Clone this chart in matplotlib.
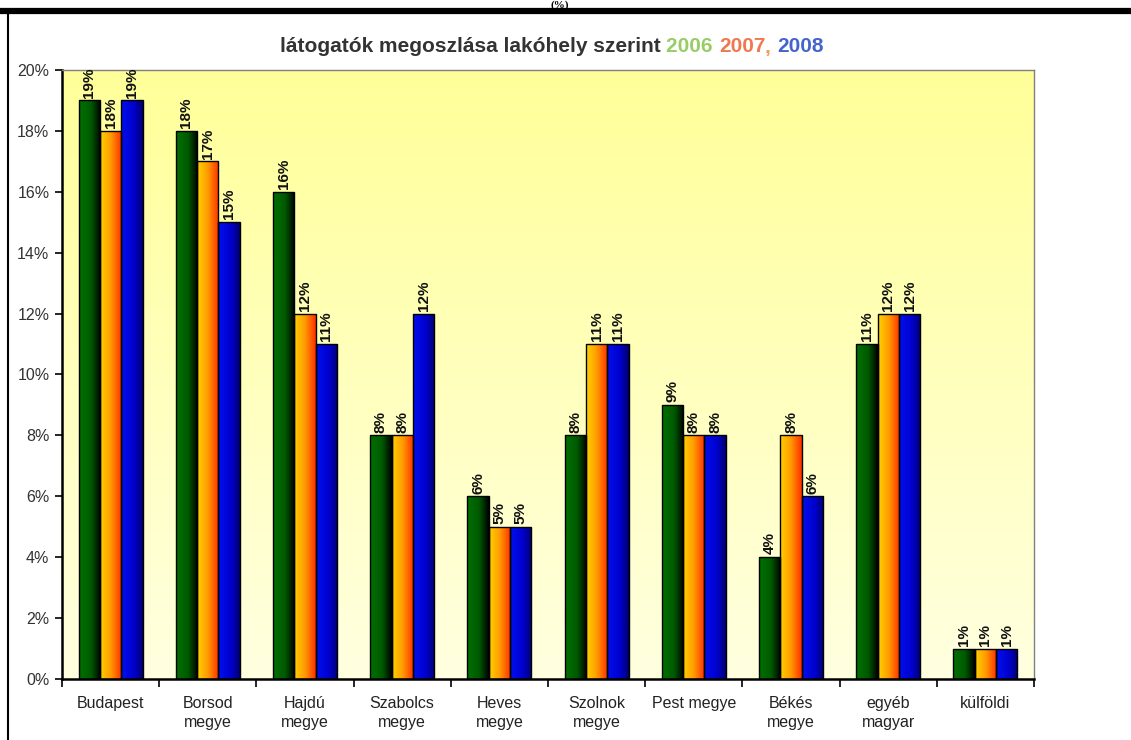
import numpy as np
import matplotlib
matplotlib.use("Agg")
import matplotlib.pyplot as plt
from matplotlib.colors import LinearSegmentedColormap
from matplotlib.lines import Line2D

categories = ["Budapest", "Borsod\nmegye", "Hajdú\nmegye", "Szabolcs\nmegye", "Heves\nmegye",
              "Szolnok\nmegye", "Pest megye", "Békés\nmegye", "egyéb\nmagyar", "külföldi"]
v2006 = [19, 18, 16, 8, 6, 8, 9, 4, 11, 1]
v2007 = [18, 17, 12, 8, 5, 11, 8, 8, 12, 1]
v2008 = [19, 15, 11, 12, 5, 11, 8, 6, 12, 1]
yticks = [0, 2, 4, 6, 8, 10, 12, 14, 16, 18, 20]

plt.rcParams['font.family'] = ['Liberation Sans', 'DejaVu Sans']

W, H = 1131, 740
fig = plt.figure(figsize=(W / 100, H / 100), dpi=100)
fig.patch.set_facecolor("white")

ax = fig.add_axes([62 / W, 1 - 679 / H, (1034 - 62) / W, (679 - 70) / H])
ax.set_facecolor("none")

# background gradient (vertical)
bg = LinearSegmentedColormap.from_list("bg", ["#FFFFE0", "#FFFF99"])
grad = np.linspace(0, 1, 256).reshape(-1, 1)
ax.imshow(grad, cmap=bg, aspect="auto", origin="lower", extent=(0, 1, 0, 1),
          transform=ax.transAxes, zorder=0)

x = np.arange(len(categories))
w = 0.22
cmaps = [
    LinearSegmentedColormap.from_list("g", [(0, "#007000"), (0.55, "#005A00"), (0.8, "#002A00"), (1, "#000000")]),
    LinearSegmentedColormap.from_list("o", [(0, "#FFD200"), (0.5, "#FF9A00"), (1, "#FF3000")]),
    LinearSegmentedColormap.from_list("b", [(0, "#0010F0"), (0.6, "#0000CC"), (1, "#000070")]),
]
series = [v2006, v2007, v2008]
hgrad = np.linspace(0, 1, 64).reshape(1, -1)
for i, (vals, cm) in enumerate(zip(series, cmaps)):
    bars = ax.bar(x + (i - 1) * w, vals, width=w, facecolor="none", edgecolor="black",
                  linewidth=1.0, zorder=3)
    for p in bars.patches:
        x0, y0 = p.get_x(), p.get_y()
        im = ax.imshow(hgrad, cmap=cm, aspect="auto", origin="lower",
                       extent=(x0, x0 + p.get_width(), y0, y0 + p.get_height()), zorder=2)
        im.set_clip_path(p)
    ax.bar_label(bars, labels=[f"{v}%" for v in vals], rotation=90, padding=2,
                 fontsize=11, fontweight="bold", color="#111111", zorder=5)

ax.set_xlim(-0.5, len(categories) - 0.5)
ax.set_ylim(0, 20)

ax.set_yticks(yticks)
ax.set_yticklabels([f"{t}%" for t in yticks], fontsize=11.5, color="#333333")
ax.tick_params(axis="y", direction="out", length=5, width=1.2, color="black", pad=4)

ax.set_xticks(x)
ax.set_xticklabels(categories, fontsize=11.5, color="#222222", linespacing=1.35)
ax.set_xticks(np.arange(-0.5, len(categories), 1), minor=True)
ax.tick_params(axis="x", which="major", length=0, pad=12)
ax.tick_params(axis="x", which="minor", direction="out", length=6, width=1.2, color="black")

for s in ["left", "bottom"]:
    ax.spines[s].set_color("black")
    ax.spines[s].set_linewidth(1.8)
for s in ["top", "right"]:
    ax.spines[s].set_color("#808080")
    ax.spines[s].set_linewidth(1.0)

# title with coloured years
fs = 15
t = fig.text(280 / W, 1 - 47 / H, "látogatók megoszlása lakóhely szerint ", fontsize=fs,
             fontweight="bold", color="#333333", va="center", ha="left")
t2 = ax.annotate("2006 ", xycoords=t, xy=(1, 0), va="bottom", ha="left", fontsize=fs,
                 fontweight="bold", color="#99CC66")
t3 = ax.annotate("2007", xycoords=t2, xy=(1, 0), va="bottom", ha="left", fontsize=fs,
                 fontweight="bold", color="#F07850")
t4 = ax.annotate(", ", xycoords=t3, xy=(1, 0), va="bottom", ha="left", fontsize=fs,
                 fontweight="bold", color="#F0A050")
ax.annotate("2008", xycoords=t4, xy=(1, 0), va="bottom", ha="left", fontsize=fs,
            fontweight="bold", color="#4466CC")

# page decorations: thick top rule, left border, "(%)" above the rule
fig.add_artist(Line2D([0, 1], [1 - 11 / H, 1 - 11 / H], transform=fig.transFigure,
                      color="black", linewidth=4.5))
fig.add_artist(Line2D([8 / W, 8 / W], [0, 1 - 11 / H], transform=fig.transFigure,
                      color="black", linewidth=1.5))
fig.text(560 / W, 1 - 0.5 / H, "(%)", fontsize=8, fontweight="bold",
         family=["Liberation Serif", "DejaVu Serif"], ha="center", va="top", color="black")

fig.savefig("out.png", dpi=100)
